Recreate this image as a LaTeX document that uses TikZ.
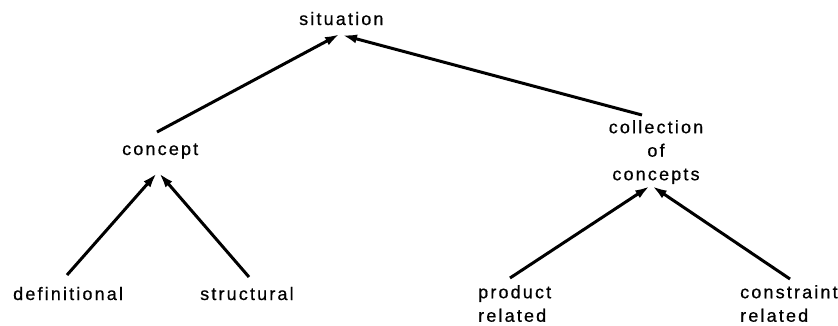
\documentclass[tikz,border=0pt]{standalone}
\usepackage{fontspec}
\setmainfont{Liberation Sans}[LetterSpace=12,FakeBold=0.6]
\usetikzlibrary{arrows.meta}
\begin{document}
\begin{tikzpicture}[x=1pt,y=-1pt,
  lbl/.style={inner sep=0pt,anchor=base west,font=\fontsize{18}{23.5}\selectfont},
  arr/.style={line width=3pt,-{Latex[length=15pt,width=9pt]}}]
\useasboundingbox (0,0) rectangle (838,325);
% labels
\node[lbl] (situation) at (299,25) {situation};
\node[lbl] (concept) at (122,155) {concept};
\node[lbl,align=center,anchor=north] (collection) at (656,120) {collection\\of\\concepts};
\node[lbl,align=left,anchor=north west] (product) at (478,285) {product\\related};
\node[lbl] (definitional) at (13,300) {definitional};
\node[lbl] (structural) at (200,300) {structural};
\node[lbl,align=left,anchor=north west] (constraint) at (740,285) {constraint\\related};
% connector ends
\coordinate (sit-l) at (340,34);
\coordinate (sit-r) at (342,35);
\coordinate (con-in-l) at (157,173);
\coordinate (con-in-r) at (159,173);
\coordinate (con-out) at (157,132);
\coordinate (col-out) at (642,115);
\coordinate (col-in-l) at (650,186);
\coordinate (col-in-r) at (652,186);
\coordinate (def-out) at (67,275);
\coordinate (str-out) at (249,277);
\coordinate (pro-out) at (510,278);
\coordinate (cst-out) at (790,279);
% connectors
\draw[arr] (con-out) -- (sit-l);
\draw[arr] (col-out) -- (sit-r);
\draw[arr] (def-out) -- (con-in-l);
\draw[arr] (str-out) -- (con-in-r);
\draw[arr] (pro-out) -- (col-in-l);
\draw[arr] (cst-out) -- (col-in-r);
\end{tikzpicture}
\end{document}
